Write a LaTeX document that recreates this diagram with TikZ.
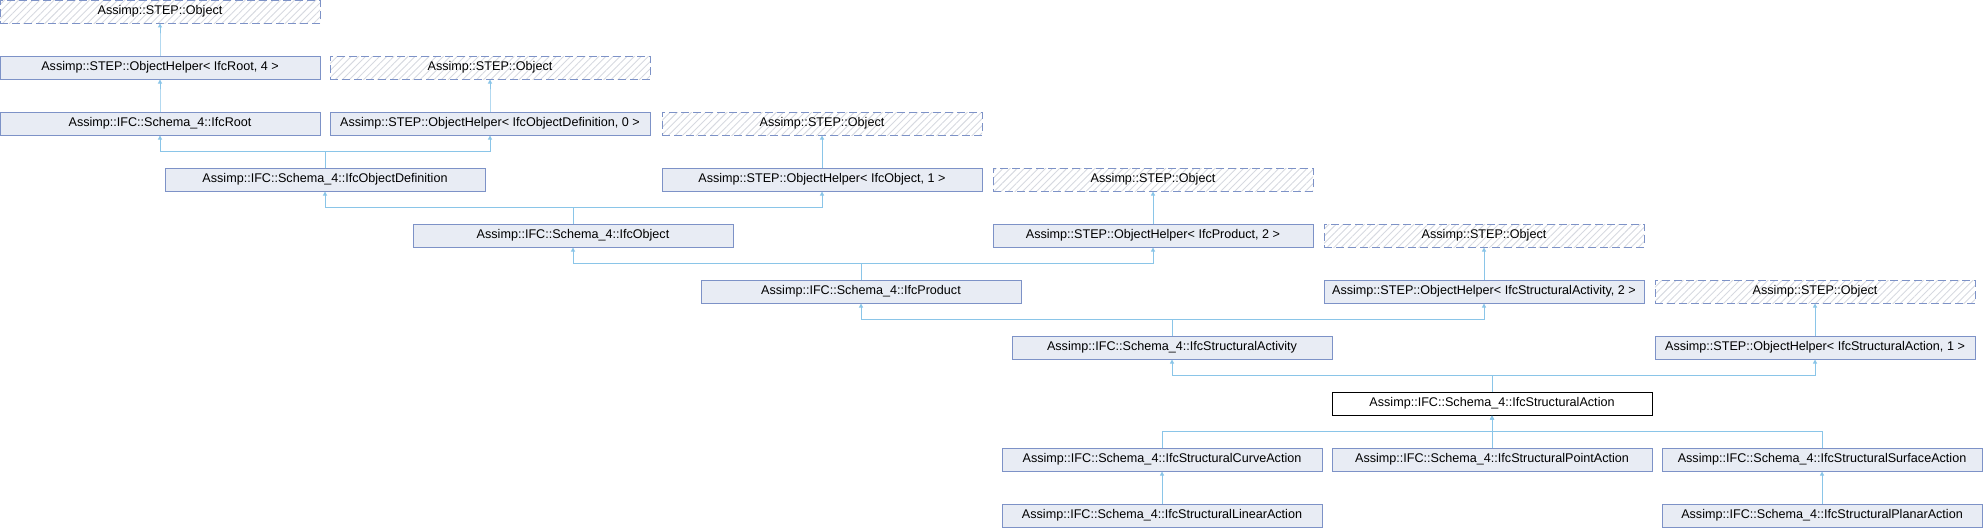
\documentclass[tikz,border=0pt]{standalone}
\usepackage{fontspec}
\setmainfont{Liberation Sans}
\usetikzlibrary{arrows.meta,patterns.meta}
\definecolor{boxfill}{HTML}{E8ECF4}
\definecolor{boxline}{HTML}{7D92C7}
\definecolor{edgeblue}{HTML}{8AC5E8}
\definecolor{hatchgray}{HTML}{D6D9E0}

\begin{document}
\begin{tikzpicture}[x=1pt, y=1pt, every node/.style={font=\fontsize{12.6}{14}\selectfont},
  cls/.style={draw=boxline, fill=boxfill, line width=1pt, minimum width=320pt, minimum height=23pt, inner sep=0pt},
  ext/.style={draw=boxline, line width=1pt, dash pattern=on 8pt off 4pt, pattern={Lines[angle=45,distance=5pt,line width=0.9pt]}, pattern color=hatchgray, minimum width=320pt, minimum height=23pt, inner sep=0pt},
  cur/.style={cls, draw=black, fill=white},
  edge/.style={draw=edgeblue, line width=1pt, -{Triangle[length=4pt,width=4pt]}}]
  \useasboundingbox (0,0) rectangle (1985,-528);

  % top of the hierarchy
  \node[ext] (obj0) at (160,-11.5) {Assimp::STEP::Object};
  \node[cls] (helperRoot) at (160,-67.5) {Assimp::STEP::ObjectHelper< IfcRoot, 4 >};
  \node[ext] (obj1) at (490,-67.5) {Assimp::STEP::Object};
  \node[cls] (ifcRoot) at (160,-123.5) {Assimp::IFC::Schema\_4::IfcRoot};
  \node[cls] (helperObjDef) at (490,-123.5) {Assimp::STEP::ObjectHelper< IfcObjectDefinition, 0 >};
  \node[ext] (obj2) at (822,-123.5) {Assimp::STEP::Object};
  \node[cls] (ifcObjDef) at (325,-179.5) {Assimp::IFC::Schema\_4::IfcObjectDefinition};
  \node[cls] (helperObj) at (822,-179.5) {Assimp::STEP::ObjectHelper< IfcObject, 1 >};
  \node[ext] (obj3) at (1153,-179.5) {Assimp::STEP::Object};
  \node[cls] (ifcObject) at (573,-235.5) {Assimp::IFC::Schema\_4::IfcObject};
  \node[cls] (helperProduct) at (1153,-235.5) {Assimp::STEP::ObjectHelper< IfcProduct, 2 >};
  \node[ext] (obj4) at (1484,-235.5) {Assimp::STEP::Object};
  \node[cls] (ifcProduct) at (861,-291.5) {Assimp::IFC::Schema\_4::IfcProduct};
  \node[cls] (helperActivity) at (1484,-291.5) {Assimp::STEP::ObjectHelper< IfcStructuralActivity, 2 >};
  \node[ext] (obj5) at (1815,-291.5) {Assimp::STEP::Object};
  \node[cls] (ifcActivity) at (1172,-347.5) {Assimp::IFC::Schema\_4::IfcStructuralActivity};
  \node[cls] (helperAction) at (1815,-347.5) {Assimp::STEP::ObjectHelper< IfcStructuralAction, 1 >};

  % the class itself
  \node[cur] (ifcAction) at (1492,-403.5) {Assimp::IFC::Schema\_4::IfcStructuralAction};

  % derived classes
  \node[cls] (curve) at (1162,-459.5) {Assimp::IFC::Schema\_4::IfcStructuralCurveAction};
  \node[cls] (point) at (1492,-459.5) {Assimp::IFC::Schema\_4::IfcStructuralPointAction};
  \node[cls] (surface) at (1822,-459.5) {Assimp::IFC::Schema\_4::IfcStructuralSurfaceAction};
  \node[cls] (linear) at (1162,-515.5) {Assimp::IFC::Schema\_4::IfcStructuralLinearAction};
  \node[cls] (planar) at (1822,-515.5) {Assimp::IFC::Schema\_4::IfcStructuralPlanarAction};

  % inheritance arrows
  \draw[edge] (helperRoot.north) -- ++(0,16.5) -| (obj0.south);
  \draw[edge] (ifcRoot.north) -- ++(0,16.5) -| (helperRoot.south);
  \draw[edge] (helperObjDef.north) -- ++(0,16.5) -| (obj1.south);
  \draw[edge] (ifcObjDef.north) -- ++(0,16.5) -| (ifcRoot.south);
  \draw[edge] (ifcObjDef.north) -- ++(0,16.5) -| (helperObjDef.south);
  \draw[edge] (helperObj.north) -- ++(0,16.5) -| (obj2.south);
  \draw[edge] (ifcObject.north) -- ++(0,16.5) -| (ifcObjDef.south);
  \draw[edge] (ifcObject.north) -- ++(0,16.5) -| (helperObj.south);
  \draw[edge] (helperProduct.north) -- ++(0,16.5) -| (obj3.south);
  \draw[edge] (ifcProduct.north) -- ++(0,16.5) -| (ifcObject.south);
  \draw[edge] (ifcProduct.north) -- ++(0,16.5) -| (helperProduct.south);
  \draw[edge] (helperActivity.north) -- ++(0,16.5) -| (obj4.south);
  \draw[edge] (ifcActivity.north) -- ++(0,16.5) -| (ifcProduct.south);
  \draw[edge] (ifcActivity.north) -- ++(0,16.5) -| (helperActivity.south);
  \draw[edge] (helperAction.north) -- ++(0,16.5) -| (obj5.south);
  \draw[edge] (ifcAction.north) -- ++(0,16.5) -| (ifcActivity.south);
  \draw[edge] (ifcAction.north) -- ++(0,16.5) -| (helperAction.south);
  \draw[edge] (curve.north) -- ++(0,16.5) -| (ifcAction.south);
  \draw[edge] (point.north) -- ++(0,16.5) -| (ifcAction.south);
  \draw[edge] (surface.north) -- ++(0,16.5) -| (ifcAction.south);
  \draw[edge] (linear.north) -- ++(0,16.5) -| (curve.south);
  \draw[edge] (planar.north) -- ++(0,16.5) -| (surface.south);
\end{tikzpicture}
\end{document}
